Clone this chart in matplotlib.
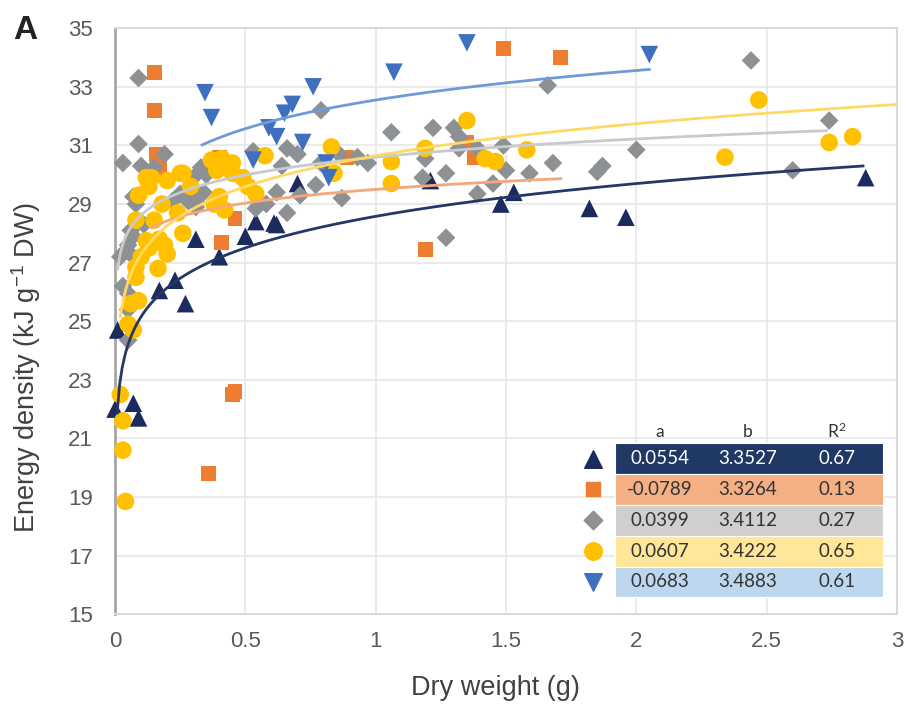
import numpy as np
import matplotlib
matplotlib.use("Agg")
import matplotlib.pyplot as plt
from matplotlib.patches import Rectangle

plt.rcParams["font.family"] = ["Liberation Sans", "DejaVu Sans"]
plt.rcParams["mathtext.default"] = "regular"

# Data (dry weight in g, energy density in kJ/g DW)
navy_x = [0.0, 0.01, 0.07, 0.09, 0.17, 0.23, 0.27, 0.31, 0.40, 0.50, 0.54, 0.61,
          0.62, 0.70, 1.21, 1.48, 1.53, 1.82, 1.96, 2.88]
navy_y = [22.0, 24.7, 22.2, 21.7, 26.05, 26.4, 25.6, 27.8, 27.2, 27.9, 28.4, 28.35,
          28.3, 29.7, 29.8, 29.0, 29.4, 28.85, 28.55, 29.9]

orange_x = [0.15, 0.15, 0.16, 0.17, 0.36, 0.45, 0.46, 0.41, 0.46, 0.40, 0.89, 1.19,
            1.35, 1.38, 1.49, 1.71]
orange_y = [33.5, 32.2, 30.7, 30.2, 19.8, 22.5, 22.6, 27.7, 28.5, 30.6, 30.6, 27.45,
            31.1, 30.6, 34.3, 34.0]

gray_x = [0.09, 0.09, 0.03, 0.19, 0.15, 0.10, 0.33, 0.35, 0.30, 0.25, 0.22, 0.31,
          0.08, 0.07, 0.11, 0.07, 0.05, 0.04, 0.07, 0.02, 0.06, 0.03, 0.05, 0.05,
          0.05, 0.28, 0.31, 0.38, 0.34, 0.53, 0.58, 0.54, 0.62, 0.64, 0.66, 0.70,
          0.66, 0.71, 0.77, 0.79, 0.79, 0.86, 0.87, 0.93, 0.97, 1.06, 1.18, 1.19,
          1.22, 1.27, 1.27, 1.30, 1.32, 1.32, 1.39, 1.39, 1.45, 1.49, 1.50, 1.59,
          1.66, 1.68, 1.85, 1.87, 2.00, 2.44, 2.60, 2.74]
gray_y = [33.3, 31.05, 30.4, 30.7, 30.25, 30.3, 30.25, 30.0, 29.9, 29.35, 29.1, 29.1,
          29.0, 29.25, 28.3, 27.9, 27.6, 27.4, 27.2, 27.2, 28.1, 26.2, 25.95, 25.4,
          24.35, 29.1, 28.9, 30.4, 29.4, 30.8, 29.0, 28.85, 29.4, 30.3, 30.9, 30.7,
          28.7, 29.3, 29.65, 30.4, 32.2, 30.7, 29.2, 30.6, 30.4, 31.45, 29.9, 30.55,
          31.6, 30.05, 27.85, 31.6, 31.3, 30.9, 30.9, 29.35, 29.7, 31.0, 30.15, 30.05,
          33.05, 30.4, 30.1, 30.3, 30.85, 33.9, 30.15, 31.85]

yellow_x = [2.47, 2.34, 2.74, 2.83, 1.35, 1.19, 1.06, 1.06, 1.58, 1.42, 1.46, 0.83,
            0.575, 0.84, 0.37, 0.41, 0.45, 0.39, 0.45, 0.49, 0.51, 0.40, 0.42, 0.38,
            0.54, 0.29, 0.25, 0.20, 0.12, 0.13, 0.09, 0.18, 0.24, 0.08, 0.15, 0.26,
            0.12, 0.17, 0.19, 0.13, 0.10, 0.20, 0.165, 0.08, 0.08, 0.09, 0.06, 0.05,
            0.07, 0.02, 0.03, 0.03, 0.04, 0.26, 0.14]
yellow_y = [32.55, 30.6, 31.1, 31.3, 31.85, 30.9, 30.45, 29.7, 30.85, 30.55, 30.45, 30.95,
            30.65, 30.05, 30.5, 30.55, 30.4, 30.15, 30.05, 29.9, 29.6, 29.25, 28.8, 29.0,
            29.35, 29.6, 30.05, 29.8, 29.9, 29.6, 29.3, 29.0, 28.7, 28.45, 28.45, 28.0,
            27.75, 27.8, 27.6, 27.5, 27.2, 27.3, 26.8, 26.85, 26.5, 25.7, 25.6, 24.9,
            24.7, 22.5, 21.6, 20.6, 18.85, 30.05, 29.9]

blue_x = [0.345, 0.37, 0.53, 0.59, 0.62, 0.65, 0.68, 0.72, 0.76, 0.81, 0.82, 1.07,
          1.35, 2.05]
blue_y = [32.8, 31.95, 30.5, 31.6, 31.3, 32.1, 32.4, 31.1, 33.0, 30.4, 29.9, 33.5,
          34.5, 34.1]

# Power-law trend lines as drawn: y = c * x**k, over [x_start, x_end]
trend_c = [28.58, 29.5, 30.6, 30.65, 32.55]
trend_k = [0.0554, 0.023, 0.029, 0.0505, 0.044]
trend_start = [0.008, 0.14, 0.01, 0.02, 0.334]
trend_end = [2.87, 1.71, 2.73, 3.0, 2.05]

# Coefficient table
tab_header = ["a", "b", "R$^{2}$"]
tab_a = ["0.0554", "-0.0789", "0.0399", "0.0607", "0.0683"]
tab_b = ["3.3527", "3.3264", "3.4112", "3.4222", "3.4883"]
tab_r2 = ["0.67", "0.13", "0.27", "0.65", "0.61"]

series = [
    (navy_x, navy_y, "^", "#1c2b5e", "#243766", "#1f3864", "white", 160),
    (orange_x, orange_y, "s", "#ed7d31", "#f5a77a", "#f4b084", "#333333", 115),
    (gray_x, gray_y, "D", "#8e9194", "#c8cacc", "#d0cece", "#333333", 90),
    (yellow_x, yellow_y, "o", "#ffc000", "#ffd966", "#ffe699", "#333333", 160),
    (blue_x, blue_y, "v", "#3f6fbf", "#6e9bd8", "#bdd7ee", "#333333", 160),
]

fig = plt.figure(figsize=(9.06, 7.06), dpi=100)
ax = fig.add_axes([0.127, 0.130, 0.863, 0.830])

for i, (xs, ys, mk, col, lcol, fill, tcol, sz) in enumerate(series):
    ax.scatter(xs, ys, marker=mk, s=sz, color=col, edgecolors="none",
               zorder=3 + i * 0.1, clip_on=False)

for i, s in enumerate(series):
    xx = np.linspace(trend_start[i], trend_end[i], 300)
    ax.plot(xx, trend_c[i] * xx ** trend_k[i], color=s[4], lw=2, zorder=5)

ax.set_xlim(0, 3)
ax.set_ylim(15, 35)
ax.set_xticks(np.arange(0, 3.01, 0.5))
ax.set_xticklabels(["0", "0.5", "1", "1.5", "2", "2.5", "3"])
ax.set_yticks(np.arange(15, 36, 2))
ax.grid(True, color="#e6e6e6", lw=1.2)
ax.set_axisbelow(True)
ax.tick_params(length=0, labelsize=16, labelcolor="#595959")
ax.tick_params(axis="y", pad=16)
ax.tick_params(axis="x", pad=12)
for side in ["top", "right", "bottom"]:
    ax.spines[side].set_color("#d9d9d9")
    ax.spines[side].set_linewidth(1.5)
ax.spines["left"].set_color("#a6a6a6")
ax.spines["left"].set_linewidth(2)

ax.set_xlabel("Dry weight (g)", fontsize=19.5, color="#404040")
ax.set_ylabel("Energy density (kJ g$^{-1}$ DW)", fontsize=19.5, color="#404040")
ax.xaxis.set_label_coords(0.486, -0.104)
ax.yaxis.set_label_coords(-0.092, 0.42)
fig.text(0.015, 0.945, "A", fontsize=24, fontweight="bold", color="#222222")

# Table drawn inside the axes
left, right = 0.639, 0.982
top, row_h = 0.2918, 0.0526
col_x = [0.697, 0.809, 0.923]
tfont = ["Lato", "DejaVu Sans"]
for j, h in enumerate(tab_header):
    ax.text(col_x[j], top + 0.02, h, transform=ax.transAxes, ha="center",
            va="center", fontsize=12.5, color="#333333", family=tfont, zorder=7)
for i, s in enumerate(series):
    y0 = top - (i + 1) * row_h
    ax.add_patch(Rectangle((left, y0), right - left, row_h, transform=ax.transAxes,
                           facecolor=s[5], edgecolor="white", lw=0.8, zorder=6))
    yc = y0 + row_h / 2
    for j, val in enumerate([tab_a[i], tab_b[i], tab_r2[i]]):
        ax.text(col_x[j], yc, val, transform=ax.transAxes, ha="center",
                va="center", fontsize=13.5, color=s[6], family=tfont, zorder=7)
    ax.scatter([0.611], [yc], marker=s[2], s=s[7], color=s[3],
               transform=ax.transAxes, zorder=7, clip_on=False)

fig.savefig("out.png", dpi=100)
